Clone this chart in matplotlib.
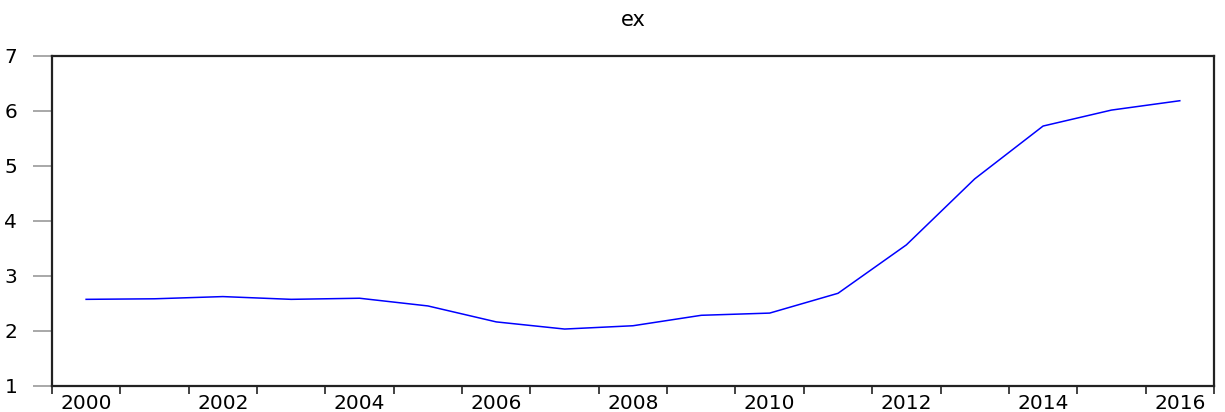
import matplotlib
matplotlib.use('Agg')
import matplotlib.pyplot as plt
import numpy as np

plt.rcParams['font.family'] = ['DejaVu Sans']

years = list(range(2000, 2017))
ex = [2.57, 2.58, 2.62, 2.57, 2.59, 2.45, 2.16, 2.03, 2.09, 2.28, 2.32,
      2.68, 3.56, 4.76, 5.72, 6.01, 6.18]
label_years = [y for y in years if y % 2 == 0]

fig = plt.figure(figsize=(12.25, 4.12), dpi=100)
ax = fig.add_axes([0.0424, 0.0638, 0.9486, 0.8012])

# one slot per year, point in the middle of each slot
xpos = np.arange(len(years))
ax.plot(xpos, ex, color='#0000ff', linewidth=1.1)

ax.set_xlim(-0.5, len(years) - 0.5)
ax.set_ylim(1, 7)
ax.set_yticks(range(1, 8))

# tick marks on slot edges, labels in slot centres
ax.set_xticks(np.arange(len(years) + 1) - 0.5)
ax.set_xticklabels([])
ax.set_xticks([years.index(y) for y in label_years], minor=True)
ax.set_xticklabels([str(y) for y in label_years], minor=True)
ax.tick_params(axis='x', which='major', direction='out', length=6,
               width=1.2, color='#222222')
ax.tick_params(axis='x', which='minor', length=0, pad=6, labelsize=14.5)
ax.tick_params(axis='y', direction='out', length=14, width=1.2,
               color='#999999', pad=11, labelsize=14.5)

for s in ax.spines.values():
    s.set_linewidth(1.6)
    s.set_color('#222222')

ax.set_title('ex', fontsize=15, pad=21)

fig.savefig('out.png', dpi=100)
